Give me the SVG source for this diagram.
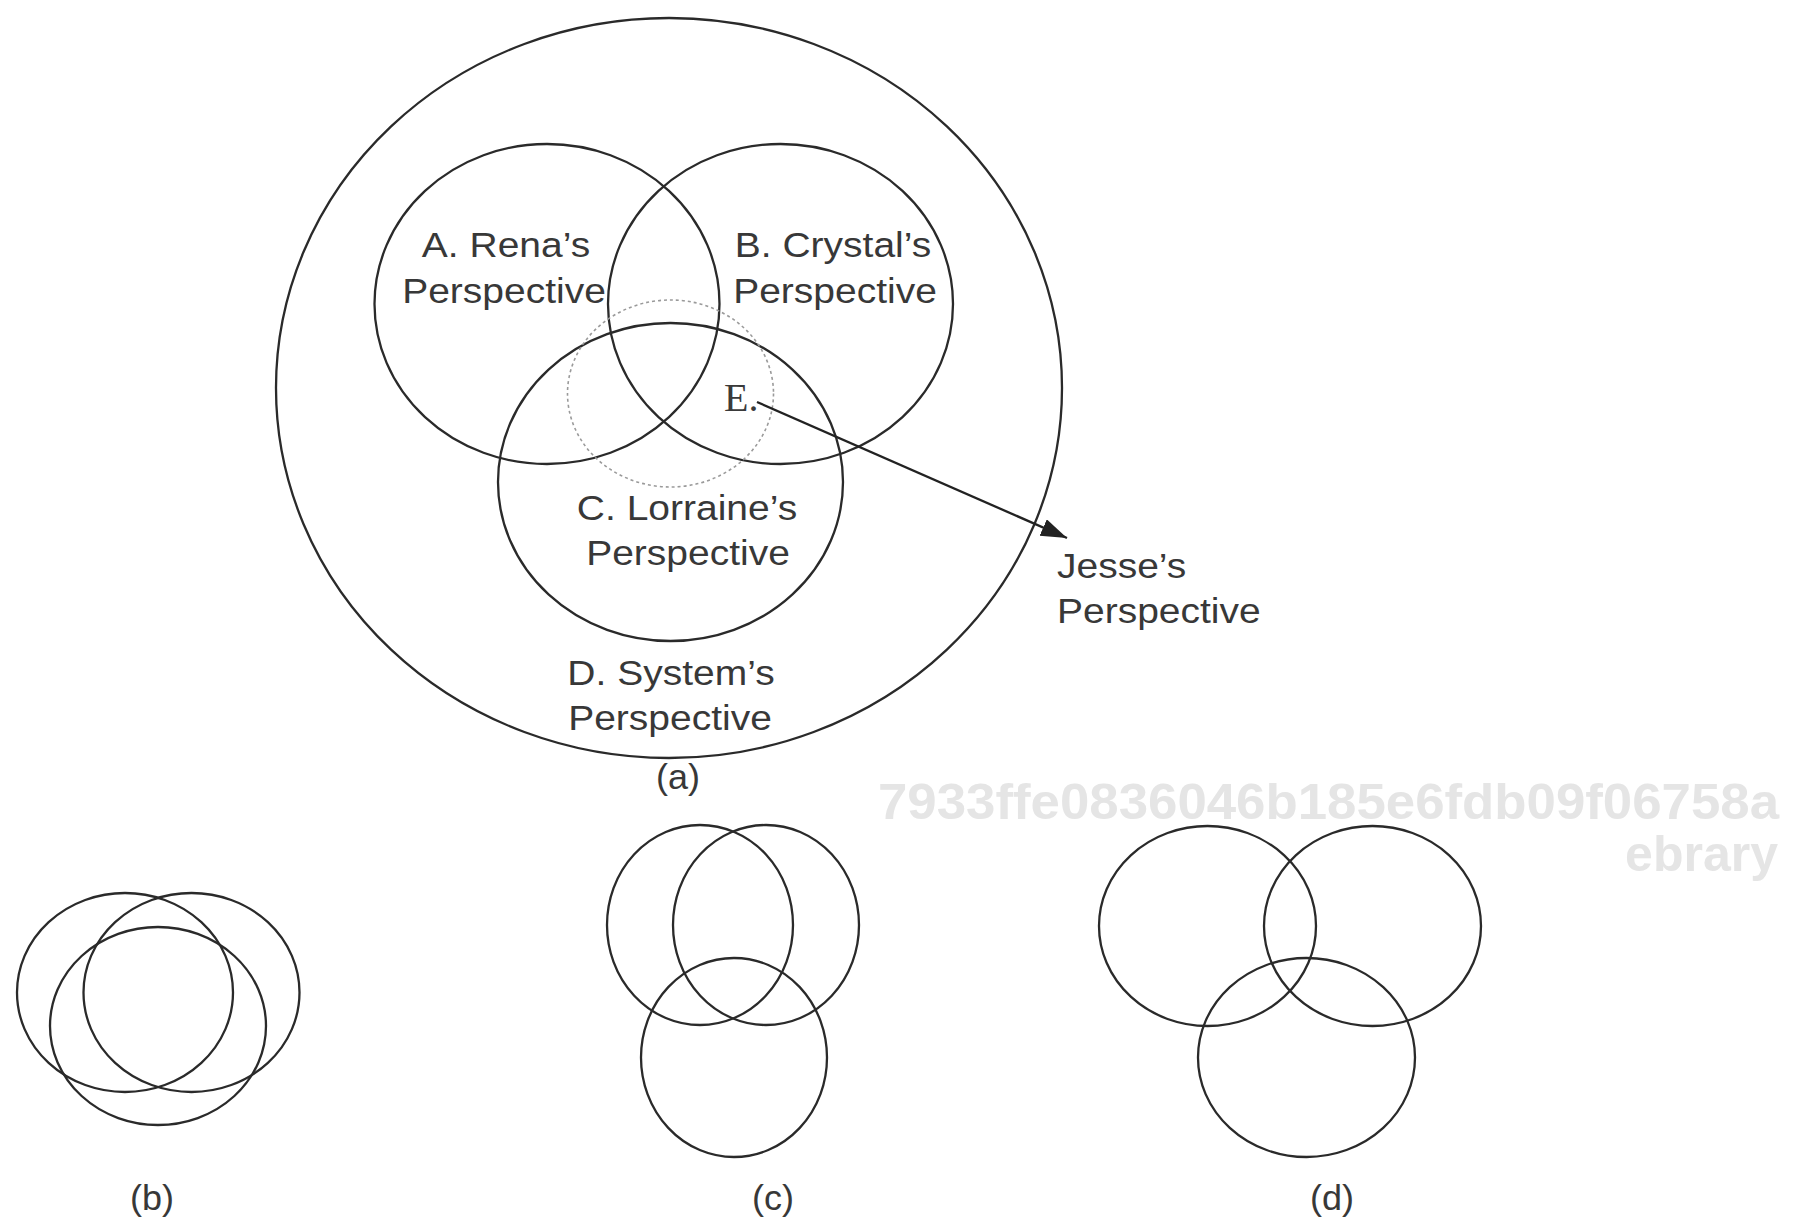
<svg xmlns="http://www.w3.org/2000/svg" width="1805" height="1227" viewBox="0 0 1805 1227">
<style>
.c{fill:none;stroke:#2a2a2a;stroke-width:2.3}
.dot{fill:none;stroke:#9a9a9a;stroke-width:1.6;stroke-dasharray:3 3}
.t{font-family:"Liberation Sans",Arial,sans-serif;font-size:39px;fill:#383838;text-anchor:middle}
.tl{font-family:"Liberation Sans",Arial,sans-serif;font-size:39px;fill:#383838}
.lab{font-family:"Liberation Sans",Arial,sans-serif;font-size:36px;fill:#383838;text-anchor:middle}
.wm{font-family:"Liberation Sans",Arial,sans-serif;font-weight:bold;font-size:50px;fill:#e5e5e5}
</style>
<defs>
<marker id="ah" markerUnits="userSpaceOnUse" markerWidth="28" markerHeight="20" refX="26" refY="9" orient="auto">
<path d="M0,0 L26,9 L0,18 Z" fill="#222"/>
</marker>
</defs>
<rect width="1805" height="1227" fill="#ffffff"/>

<g id="watermark">
<text class="wm" x="878" y="819" textLength="901" lengthAdjust="spacingAndGlyphs">7933ffe0836046b185e6fdb09f06758a</text>
<text class="wm" x="1778" y="871" text-anchor="end">ebrary</text>
</g>

<g id="diagram-a">
<g id="D-system">
<ellipse class="c" cx="669" cy="388" rx="393" ry="370"/>
<text class="t" transform="translate(671 685) scale(1 0.9)">D. System’s</text>
<text class="t" transform="translate(670 730) scale(1 0.9)">Perspective</text>
</g>
<g id="A-rena">
<ellipse class="c" cx="547" cy="304" rx="172.5" ry="160"/>
<text class="t" transform="translate(506 257) scale(1 0.9)">A. Rena’s</text>
<text class="t" transform="translate(504 303) scale(1 0.9)">Perspective</text>
</g>
<g id="B-crystal">
<ellipse class="c" cx="780.5" cy="304" rx="172.5" ry="160"/>
<text class="t" transform="translate(833 257) scale(1 0.9)">B. Crystal’s</text>
<text class="t" transform="translate(835 303) scale(1 0.9)">Perspective</text>
</g>
<g id="C-lorraine">
<ellipse class="c" cx="670.5" cy="482" rx="172.5" ry="159"/>
<text class="t" transform="translate(687 520) scale(1 0.9)">C. Lorraine’s</text>
<text class="t" transform="translate(688 565) scale(1 0.9)">Perspective</text>
</g>
<g id="E-shared">
<ellipse class="dot" cx="670.5" cy="393.5" rx="103" ry="93.5"/>
<text x="724" y="411" font-family="'Liberation Serif','Times New Roman',serif" font-size="40" fill="#3a3a3a">E.</text>
</g>
<g id="jesse">
<text class="tl" transform="translate(1057 578) scale(1 0.9)">Jesse’s</text>
<text class="tl" transform="translate(1057 623) scale(1 0.9)">Perspective</text>
</g>
<text class="lab" transform="translate(678 789) scale(1 0.95)">(a)</text>
</g>

<g id="connectors">
<line x1="757" y1="402" x2="1067" y2="538" stroke="#222" stroke-width="2.3" marker-end="url(#ah)"/>
</g>

<g id="diagram-b">
<ellipse class="c" cx="125" cy="992.5" rx="108" ry="99.5"/>
<ellipse class="c" cx="191.5" cy="992.5" rx="108" ry="99.5"/>
<ellipse class="c" cx="158" cy="1026" rx="108" ry="99"/>
<text class="lab" transform="translate(152 1210) scale(1 0.95)">(b)</text>
</g>

<g id="diagram-c">
<ellipse class="c" cx="700" cy="925" rx="93" ry="100"/>
<ellipse class="c" cx="766" cy="925" rx="93" ry="100"/>
<ellipse class="c" cx="734" cy="1057.5" rx="93" ry="99.5"/>
<text class="lab" transform="translate(773 1210) scale(1 0.95)">(c)</text>
</g>

<g id="diagram-d">
<ellipse class="c" cx="1207.5" cy="926" rx="108.5" ry="100"/>
<ellipse class="c" cx="1372.5" cy="926" rx="108.5" ry="100"/>
<ellipse class="c" cx="1306.5" cy="1057.5" rx="108.5" ry="99.5"/>
<text class="lab" transform="translate(1332 1210) scale(1 0.95)">(d)</text>
</g>
</svg>
